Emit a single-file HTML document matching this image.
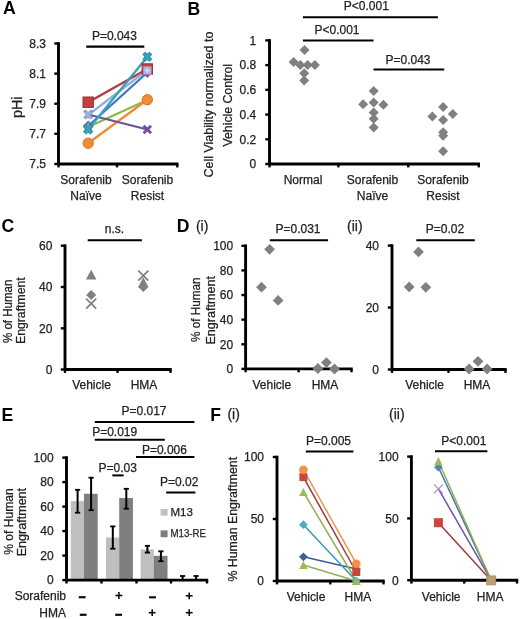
<!DOCTYPE html>
<html><head><meta charset="utf-8"><style>
html,body{margin:0;padding:0;background:#fff;}
svg{display:block;font-family:"Liberation Sans", sans-serif;}
</style></head><body>
<svg width="520" height="619" viewBox="0 0 520 619">
<defs><filter id="bl" filterUnits="userSpaceOnUse" x="0" y="0" width="520" height="619"><feGaussianBlur stdDeviation="0.4"/></filter></defs>
<rect width="520" height="619" fill="#fff"/>
<g filter="url(#bl)">
<text x="2.9" y="14.4" font-size="17.6" text-anchor="start" fill="#000" font-weight="bold">A</text>
<text x="187.6" y="14.7" font-size="17.6" text-anchor="start" fill="#000" font-weight="bold">B</text>
<text x="1.4" y="232.2" font-size="17.6" text-anchor="start" fill="#000" font-weight="bold">C</text>
<text x="176.8" y="232.1" font-size="17.6" text-anchor="start" fill="#000" font-weight="bold">D</text>
<text x="1.6" y="421.2" font-size="17.6" text-anchor="start" fill="#000" font-weight="bold">E</text>
<text x="210.2" y="421.2" font-size="17.6" text-anchor="start" fill="#000" font-weight="bold">F</text>
<text x="195.9" y="231.1" font-size="14" text-anchor="start" fill="#222" stroke="#222" stroke-width="0.25">(i)</text>
<text x="347" y="231.1" font-size="14" text-anchor="start" fill="#222" stroke="#222" stroke-width="0.25">(ii)</text>
<text x="227.4" y="419.2" font-size="14" text-anchor="start" fill="#222" stroke="#222" stroke-width="0.25">(i)</text>
<text x="389" y="419.2" font-size="14" text-anchor="start" fill="#222" stroke="#222" stroke-width="0.25">(ii)</text>
<line x1="58.5" y1="42.2" x2="58.5" y2="164" stroke="#000" stroke-width="2.9" stroke-linecap="butt"/>
<line x1="54.3" y1="43.5" x2="58.5" y2="43.5" stroke="#000" stroke-width="2.4" stroke-linecap="butt"/>
<text x="46" y="47.8" font-size="12" text-anchor="end" fill="#222" stroke="#222" stroke-width="0.25">8.3</text>
<line x1="54.3" y1="73.6" x2="58.5" y2="73.6" stroke="#000" stroke-width="2.4" stroke-linecap="butt"/>
<text x="46" y="77.89999999999999" font-size="12" text-anchor="end" fill="#222" stroke="#222" stroke-width="0.25">8.1</text>
<line x1="54.3" y1="103.7" x2="58.5" y2="103.7" stroke="#000" stroke-width="2.4" stroke-linecap="butt"/>
<text x="46" y="108.0" font-size="12" text-anchor="end" fill="#222" stroke="#222" stroke-width="0.25">7.9</text>
<line x1="54.3" y1="133.8" x2="58.5" y2="133.8" stroke="#000" stroke-width="2.4" stroke-linecap="butt"/>
<text x="46" y="138.10000000000002" font-size="12" text-anchor="end" fill="#222" stroke="#222" stroke-width="0.25">7.7</text>
<line x1="54.3" y1="164" x2="58.5" y2="164" stroke="#000" stroke-width="2.4" stroke-linecap="butt"/>
<text x="46" y="168.3" font-size="12" text-anchor="end" fill="#222" stroke="#222" stroke-width="0.25">7.5</text>
<line x1="58.5" y1="164" x2="178.5" y2="164" stroke="#000" stroke-width="2.9" stroke-linecap="butt"/>
<line x1="58.5" y1="164" x2="58.5" y2="167.4" stroke="#000" stroke-width="2.4" stroke-linecap="butt"/>
<line x1="117" y1="164" x2="117" y2="167.4" stroke="#000" stroke-width="2.4" stroke-linecap="butt"/>
<line x1="177.3" y1="164" x2="177.3" y2="167.4" stroke="#000" stroke-width="2.4" stroke-linecap="butt"/>
<text x="86" y="183.8" font-size="12" text-anchor="middle" fill="#222" stroke="#222" stroke-width="0.25">Sorafenib</text>
<text x="86" y="200" font-size="12" text-anchor="middle" fill="#222" stroke="#222" stroke-width="0.25">Na&#239;ve</text>
<text x="147.5" y="183.8" font-size="12" text-anchor="middle" fill="#222" stroke="#222" stroke-width="0.25">Sorafenib</text>
<text x="147.5" y="200" font-size="12" text-anchor="middle" fill="#222" stroke="#222" stroke-width="0.25">Resist</text>
<text x="22.2" y="107.3" font-size="14.4" text-anchor="middle" fill="#222" transform="rotate(-90 22.2 107.3)" stroke="#222" stroke-width="0.25">pHi</text>
<text x="114.4" y="40.0" font-size="12" text-anchor="middle" fill="#222" stroke="#222" stroke-width="0.25">P=0.043</text>
<line x1="86.2" y1="46.6" x2="144.3" y2="46.6" stroke="#000" stroke-width="2.2" stroke-linecap="butt"/>
<line x1="88.2" y1="126" x2="147.3" y2="72.5" stroke="#3D78BE" stroke-width="2.3" stroke-linecap="butt"/>
<line x1="88.2" y1="127" x2="147.3" y2="100" stroke="#8DB84C" stroke-width="2.3" stroke-linecap="butt"/>
<line x1="88.2" y1="143.2" x2="147.3" y2="99.7" stroke="#EF8A36" stroke-width="2.3" stroke-linecap="butt"/>
<line x1="88.2" y1="114.5" x2="147.3" y2="129.5" stroke="#6E50A0" stroke-width="2.3" stroke-linecap="butt"/>
<line x1="88.2" y1="102.2" x2="147.3" y2="69" stroke="#B23A3C" stroke-width="2.3" stroke-linecap="butt"/>
<line x1="88.2" y1="115" x2="147.3" y2="70" stroke="#98AEDC" stroke-width="2.3" stroke-linecap="butt"/>
<line x1="88.2" y1="129.5" x2="147.3" y2="56.8" stroke="#35A2BE" stroke-width="2.3" stroke-linecap="butt"/>
<polygon points="88.20,120.50 93.70,126.00 88.20,131.50 82.70,126.00" fill="#3D78BE"/>
<polygon points="147.30,67.00 152.80,72.50 147.30,78.00 141.80,72.50" fill="#3D78BE"/>
<polygon points="88.20,122.00 93.20,132.00 83.20,132.00" fill="#8DB84C"/>
<circle cx="88.2" cy="143.2" r="5.2" fill="#F08C38" stroke="#D8742C" stroke-width="1"/>
<circle cx="147.3" cy="99.7" r="5.2" fill="#F08C38" stroke="#D8742C" stroke-width="1"/>
<line x1="84.45" y1="110.75" x2="91.95" y2="118.25" stroke="#6E50A0" stroke-width="2.8" stroke-linecap="butt"/>
<line x1="84.45" y1="118.25" x2="91.95" y2="110.75" stroke="#6E50A0" stroke-width="2.8" stroke-linecap="butt"/>
<line x1="143.55" y1="125.75" x2="151.05" y2="133.25" stroke="#6E50A0" stroke-width="2.8" stroke-linecap="butt"/>
<line x1="143.55" y1="133.25" x2="151.05" y2="125.75" stroke="#6E50A0" stroke-width="2.8" stroke-linecap="butt"/>
<rect x="83.0" y="97.0" width="10.4" height="10.4" fill="#C4403F" stroke="#9E3033" stroke-width="1"/>
<rect x="142.10000000000002" y="63.8" width="10.4" height="10.4" fill="#C4403F" stroke="#9E3033" stroke-width="1"/>
<line x1="84.7" y1="111.5" x2="91.7" y2="118.5" stroke="#98AEDC" stroke-width="3" stroke-linecap="butt"/>
<line x1="84.7" y1="118.5" x2="91.7" y2="111.5" stroke="#98AEDC" stroke-width="3" stroke-linecap="butt"/>
<line x1="88.2" y1="111.5" x2="88.2" y2="118.5" stroke="#98AEDC" stroke-width="3" stroke-linecap="butt"/>
<rect x="143.20000000000002" y="66.4" width="8.2" height="8.2" fill="#A7B4DE"/>
<line x1="144.8" y1="70.5" x2="149.8" y2="70.5" stroke="#DCE2F4" stroke-width="1.2" stroke-linecap="butt"/>
<line x1="147.3" y1="68" x2="147.3" y2="73" stroke="#DCE2F4" stroke-width="1.2" stroke-linecap="butt"/>
<line x1="84.60000000000001" y1="125.9" x2="91.8" y2="133.1" stroke="#1F7F98" stroke-width="3.8" stroke-linecap="butt"/>
<line x1="84.60000000000001" y1="133.1" x2="91.8" y2="125.9" stroke="#1F7F98" stroke-width="3.8" stroke-linecap="butt"/>
<line x1="88.2" y1="125.9" x2="88.2" y2="133.1" stroke="#1F7F98" stroke-width="3.8" stroke-linecap="butt"/>
<line x1="84.7" y1="126.0" x2="91.7" y2="133.0" stroke="#35A2BE" stroke-width="2.4" stroke-linecap="butt"/>
<line x1="84.7" y1="133.0" x2="91.7" y2="126.0" stroke="#35A2BE" stroke-width="2.4" stroke-linecap="butt"/>
<line x1="88.2" y1="126.0" x2="88.2" y2="133.0" stroke="#35A2BE" stroke-width="2.4" stroke-linecap="butt"/>
<line x1="143.70000000000002" y1="53.199999999999996" x2="150.9" y2="60.4" stroke="#1F7F98" stroke-width="3.8" stroke-linecap="butt"/>
<line x1="143.70000000000002" y1="60.4" x2="150.9" y2="53.199999999999996" stroke="#1F7F98" stroke-width="3.8" stroke-linecap="butt"/>
<line x1="147.3" y1="53.199999999999996" x2="147.3" y2="60.4" stroke="#1F7F98" stroke-width="3.8" stroke-linecap="butt"/>
<line x1="143.8" y1="53.3" x2="150.8" y2="60.3" stroke="#35A2BE" stroke-width="2.4" stroke-linecap="butt"/>
<line x1="143.8" y1="60.3" x2="150.8" y2="53.3" stroke="#35A2BE" stroke-width="2.4" stroke-linecap="butt"/>
<line x1="147.3" y1="53.3" x2="147.3" y2="60.3" stroke="#35A2BE" stroke-width="2.4" stroke-linecap="butt"/>
<line x1="269.5" y1="39.1" x2="269.5" y2="164" stroke="#000" stroke-width="2.9" stroke-linecap="butt"/>
<line x1="265.3" y1="40.400000000000006" x2="269.5" y2="40.400000000000006" stroke="#000" stroke-width="2.4" stroke-linecap="butt"/>
<text x="256.3" y="44.7" font-size="12" text-anchor="end" fill="#222" stroke="#222" stroke-width="0.25">1</text>
<line x1="265.3" y1="65.12" x2="269.5" y2="65.12" stroke="#000" stroke-width="2.4" stroke-linecap="butt"/>
<text x="256.3" y="69.42" font-size="12" text-anchor="end" fill="#222" stroke="#222" stroke-width="0.25">0.8</text>
<line x1="265.3" y1="89.84" x2="269.5" y2="89.84" stroke="#000" stroke-width="2.4" stroke-linecap="butt"/>
<text x="256.3" y="94.14" font-size="12" text-anchor="end" fill="#222" stroke="#222" stroke-width="0.25">0.6</text>
<line x1="265.3" y1="114.56" x2="269.5" y2="114.56" stroke="#000" stroke-width="2.4" stroke-linecap="butt"/>
<text x="256.3" y="118.86" font-size="12" text-anchor="end" fill="#222" stroke="#222" stroke-width="0.25">0.4</text>
<line x1="265.3" y1="139.28" x2="269.5" y2="139.28" stroke="#000" stroke-width="2.4" stroke-linecap="butt"/>
<text x="256.3" y="143.58" font-size="12" text-anchor="end" fill="#222" stroke="#222" stroke-width="0.25">0.2</text>
<line x1="265.3" y1="164.0" x2="269.5" y2="164.0" stroke="#000" stroke-width="2.4" stroke-linecap="butt"/>
<text x="256.3" y="168.3" font-size="12" text-anchor="end" fill="#222" stroke="#222" stroke-width="0.25">0</text>
<line x1="269.5" y1="164" x2="480.0" y2="164" stroke="#000" stroke-width="2.9" stroke-linecap="butt"/>
<line x1="269.5" y1="164" x2="269.5" y2="167.4" stroke="#000" stroke-width="2.4" stroke-linecap="butt"/>
<line x1="338.4" y1="164" x2="338.4" y2="167.4" stroke="#000" stroke-width="2.4" stroke-linecap="butt"/>
<line x1="408.3" y1="164" x2="408.3" y2="167.4" stroke="#000" stroke-width="2.4" stroke-linecap="butt"/>
<line x1="478.8" y1="164" x2="478.8" y2="167.4" stroke="#000" stroke-width="2.4" stroke-linecap="butt"/>
<text x="213.4" y="104.5" font-size="12" text-anchor="middle" fill="#222" textLength="145.8" lengthAdjust="spacingAndGlyphs" transform="rotate(-90 213.4 104.5)" stroke="#222" stroke-width="0.25">Cell Viability normalized to</text>
<text x="231.9" y="105.2" font-size="12" text-anchor="middle" fill="#222" textLength="82.6" lengthAdjust="spacingAndGlyphs" transform="rotate(-90 231.9 105.2)" stroke="#222" stroke-width="0.25">Vehicle Control</text>
<text x="303" y="183.7" font-size="12" text-anchor="middle" fill="#222" stroke="#222" stroke-width="0.25">Normal</text>
<text x="372.5" y="183.7" font-size="12" text-anchor="middle" fill="#222" stroke="#222" stroke-width="0.25">Sorafenib</text>
<text x="372.5" y="199.8" font-size="12" text-anchor="middle" fill="#222" stroke="#222" stroke-width="0.25">Na&#239;ve</text>
<text x="443" y="183.7" font-size="12" text-anchor="middle" fill="#222" stroke="#222" stroke-width="0.25">Sorafenib</text>
<text x="443" y="199.8" font-size="12" text-anchor="middle" fill="#222" stroke="#222" stroke-width="0.25">Resist</text>
<text x="366.3" y="10.4" font-size="12" text-anchor="middle" fill="#222" stroke="#222" stroke-width="0.25">P&lt;0.001</text>
<line x1="302.9" y1="17.3" x2="437.9" y2="17.3" stroke="#000" stroke-width="2" stroke-linecap="butt"/>
<text x="337" y="34.0" font-size="12" text-anchor="middle" fill="#222" stroke="#222" stroke-width="0.25">P&lt;0.001</text>
<line x1="302.9" y1="40.6" x2="373.5" y2="40.6" stroke="#000" stroke-width="2" stroke-linecap="butt"/>
<text x="408" y="64.3" font-size="12" text-anchor="middle" fill="#222" stroke="#222" stroke-width="0.25">P=0.043</text>
<line x1="373.5" y1="69.5" x2="444.2" y2="69.5" stroke="#000" stroke-width="2" stroke-linecap="butt"/>
<polygon points="304.50,45.00 309.50,50.00 304.50,55.00 299.50,50.00" fill="#808080"/>
<polygon points="293.60,57.10 298.60,62.10 293.60,67.10 288.60,62.10" fill="#808080"/>
<polygon points="300.30,60.00 305.30,65.00 300.30,70.00 295.30,65.00" fill="#808080"/>
<polygon points="307.60,60.00 312.60,65.00 307.60,70.00 302.60,65.00" fill="#808080"/>
<polygon points="314.90,60.00 319.90,65.00 314.90,70.00 309.90,65.00" fill="#808080"/>
<polygon points="304.20,68.30 309.20,73.30 304.20,78.30 299.20,73.30" fill="#808080"/>
<polygon points="304.20,75.50 309.20,80.50 304.20,85.50 299.20,80.50" fill="#808080"/>
<polygon points="373.70,85.90 378.70,90.90 373.70,95.90 368.70,90.90" fill="#808080"/>
<polygon points="363.10,99.20 368.10,104.20 363.10,109.20 358.10,104.20" fill="#808080"/>
<polygon points="373.70,97.50 378.70,102.50 373.70,107.50 368.70,102.50" fill="#808080"/>
<polygon points="383.40,99.70 388.40,104.70 383.40,109.70 378.40,104.70" fill="#808080"/>
<polygon points="373.70,107.50 378.70,112.50 373.70,117.50 368.70,112.50" fill="#808080"/>
<polygon points="373.70,113.80 378.70,118.80 373.70,123.80 368.70,118.80" fill="#808080"/>
<polygon points="373.70,122.50 378.70,127.50 373.70,132.50 368.70,127.50" fill="#808080"/>
<polygon points="443.10,102.10 448.10,107.10 443.10,112.10 438.10,107.10" fill="#808080"/>
<polygon points="432.40,111.50 437.40,116.50 432.40,121.50 427.40,116.50" fill="#808080"/>
<polygon points="452.80,108.90 457.80,113.90 452.80,118.90 447.80,113.90" fill="#808080"/>
<polygon points="443.10,115.00 448.10,120.00 443.10,125.00 438.10,120.00" fill="#808080"/>
<polygon points="443.10,127.30 448.10,132.30 443.10,137.30 438.10,132.30" fill="#808080"/>
<polygon points="443.10,130.70 448.10,135.70 443.10,140.70 438.10,135.70" fill="#808080"/>
<polygon points="443.10,146.20 448.10,151.20 443.10,156.20 438.10,151.20" fill="#808080"/>
<line x1="65" y1="244.39999999999998" x2="65" y2="369.5" stroke="#000" stroke-width="2.9" stroke-linecap="butt"/>
<line x1="60.8" y1="245.7" x2="65" y2="245.7" stroke="#000" stroke-width="2.4" stroke-linecap="butt"/>
<text x="52.4" y="250.0" font-size="12" text-anchor="end" fill="#222" stroke="#222" stroke-width="0.25">60</text>
<line x1="60.8" y1="287" x2="65" y2="287" stroke="#000" stroke-width="2.4" stroke-linecap="butt"/>
<text x="52.4" y="291.3" font-size="12" text-anchor="end" fill="#222" stroke="#222" stroke-width="0.25">40</text>
<line x1="60.8" y1="328.3" x2="65" y2="328.3" stroke="#000" stroke-width="2.4" stroke-linecap="butt"/>
<text x="52.4" y="332.6" font-size="12" text-anchor="end" fill="#222" stroke="#222" stroke-width="0.25">20</text>
<line x1="60.8" y1="369.5" x2="65" y2="369.5" stroke="#000" stroke-width="2.4" stroke-linecap="butt"/>
<text x="52.4" y="373.8" font-size="12" text-anchor="end" fill="#222" stroke="#222" stroke-width="0.25">0</text>
<line x1="65" y1="369.5" x2="171.7" y2="369.5" stroke="#000" stroke-width="2.9" stroke-linecap="butt"/>
<line x1="65" y1="369.5" x2="65" y2="372.9" stroke="#000" stroke-width="2.4" stroke-linecap="butt"/>
<line x1="117.5" y1="369.5" x2="117.5" y2="372.9" stroke="#000" stroke-width="2.4" stroke-linecap="butt"/>
<line x1="170.5" y1="369.5" x2="170.5" y2="372.9" stroke="#000" stroke-width="2.4" stroke-linecap="butt"/>
<text x="11.8" y="311.3" font-size="12" text-anchor="middle" fill="#222" textLength="63.4" lengthAdjust="spacingAndGlyphs" transform="rotate(-90 11.8 311.3)" stroke="#222" stroke-width="0.25">% of Human</text>
<text x="25.1" y="310.7" font-size="12" text-anchor="middle" fill="#222" textLength="66.7" lengthAdjust="spacingAndGlyphs" transform="rotate(-90 25.1 310.7)" stroke="#222" stroke-width="0.25">Engraftment</text>
<text x="91.5" y="389.4" font-size="12" text-anchor="middle" fill="#222" stroke="#222" stroke-width="0.25">Vehicle</text>
<text x="144" y="389.4" font-size="12" text-anchor="middle" fill="#222" stroke="#222" stroke-width="0.25">HMA</text>
<text x="114.5" y="233.0" font-size="12" text-anchor="middle" fill="#222" stroke="#222" stroke-width="0.25">n.s.</text>
<line x1="87.7" y1="240.3" x2="141.9" y2="240.3" stroke="#000" stroke-width="2" stroke-linecap="butt"/>
<polygon points="91.20,269.75 96.45,279.45 85.95,279.45" fill="#808080"/>
<line x1="86.2" y1="298.6" x2="96.2" y2="308.6" stroke="#808080" stroke-width="1.8" stroke-linecap="butt"/>
<line x1="86.2" y1="308.6" x2="96.2" y2="298.6" stroke="#808080" stroke-width="1.8" stroke-linecap="butt"/>
<polygon points="91.20,290.10 96.20,295.10 91.20,300.10 86.20,295.10" fill="#808080"/>
<line x1="138.3" y1="270.6" x2="148.3" y2="280.6" stroke="#808080" stroke-width="1.8" stroke-linecap="butt"/>
<line x1="138.3" y1="280.6" x2="148.3" y2="270.6" stroke="#808080" stroke-width="1.8" stroke-linecap="butt"/>
<polygon points="143.30,277.30 148.55,287.30 138.05,287.30" fill="#808080"/>
<polygon points="143.30,282.00 148.30,287.00 143.30,292.00 138.30,287.00" fill="#808080"/>
<line x1="245.6" y1="244.5" x2="245.6" y2="368.9" stroke="#000" stroke-width="2.9" stroke-linecap="butt"/>
<line x1="241.4" y1="245.79999999999995" x2="245.6" y2="245.79999999999995" stroke="#000" stroke-width="2.4" stroke-linecap="butt"/>
<text x="233.2" y="250.09999999999997" font-size="12" text-anchor="end" fill="#222" stroke="#222" stroke-width="0.25">100</text>
<line x1="241.4" y1="270.41999999999996" x2="245.6" y2="270.41999999999996" stroke="#000" stroke-width="2.4" stroke-linecap="butt"/>
<text x="233.2" y="274.71999999999997" font-size="12" text-anchor="end" fill="#222" stroke="#222" stroke-width="0.25">80</text>
<line x1="241.4" y1="295.03999999999996" x2="245.6" y2="295.03999999999996" stroke="#000" stroke-width="2.4" stroke-linecap="butt"/>
<text x="233.2" y="299.34" font-size="12" text-anchor="end" fill="#222" stroke="#222" stroke-width="0.25">60</text>
<line x1="241.4" y1="319.65999999999997" x2="245.6" y2="319.65999999999997" stroke="#000" stroke-width="2.4" stroke-linecap="butt"/>
<text x="233.2" y="323.96" font-size="12" text-anchor="end" fill="#222" stroke="#222" stroke-width="0.25">40</text>
<line x1="241.4" y1="344.28" x2="245.6" y2="344.28" stroke="#000" stroke-width="2.4" stroke-linecap="butt"/>
<text x="233.2" y="348.58" font-size="12" text-anchor="end" fill="#222" stroke="#222" stroke-width="0.25">20</text>
<line x1="241.4" y1="368.9" x2="245.6" y2="368.9" stroke="#000" stroke-width="2.4" stroke-linecap="butt"/>
<text x="233.2" y="373.2" font-size="12" text-anchor="end" fill="#222" stroke="#222" stroke-width="0.25">0</text>
<line x1="245.6" y1="368.9" x2="352.7" y2="368.9" stroke="#000" stroke-width="2.9" stroke-linecap="butt"/>
<line x1="245.6" y1="368.9" x2="245.6" y2="372.29999999999995" stroke="#000" stroke-width="2.4" stroke-linecap="butt"/>
<line x1="298.6" y1="368.9" x2="298.6" y2="372.29999999999995" stroke="#000" stroke-width="2.4" stroke-linecap="butt"/>
<line x1="351.5" y1="368.9" x2="351.5" y2="372.29999999999995" stroke="#000" stroke-width="2.4" stroke-linecap="butt"/>
<text x="271.8" y="389.4" font-size="12" text-anchor="middle" fill="#222" stroke="#222" stroke-width="0.25">Vehicle</text>
<text x="325" y="389.4" font-size="12" text-anchor="middle" fill="#222" stroke="#222" stroke-width="0.25">HMA</text>
<text x="298" y="233.4" font-size="12" text-anchor="middle" fill="#222" stroke="#222" stroke-width="0.25">P=0.031</text>
<line x1="269.8" y1="240.3" x2="328.1" y2="240.3" stroke="#000" stroke-width="2" stroke-linecap="butt"/>
<polygon points="269.60,243.90 275.00,249.30 269.60,254.70 264.20,249.30" fill="#808080"/>
<polygon points="261.50,281.80 266.90,287.20 261.50,292.60 256.10,287.20" fill="#808080"/>
<polygon points="278.10,295.00 283.50,300.40 278.10,305.80 272.70,300.40" fill="#808080"/>
<polygon points="317.90,363.10 323.30,368.50 317.90,373.90 312.50,368.50" fill="#808080"/>
<polygon points="326.40,357.20 331.80,362.60 326.40,368.00 321.00,362.60" fill="#808080"/>
<polygon points="334.50,363.60 339.90,369.00 334.50,374.40 329.10,369.00" fill="#808080"/>
<text x="199.7" y="309.7" font-size="12" text-anchor="middle" fill="#222" textLength="64.6" lengthAdjust="spacingAndGlyphs" transform="rotate(-90 199.7 309.7)" stroke="#222" stroke-width="0.25">% of Human</text>
<text x="215.2" y="310.3" font-size="12" text-anchor="middle" fill="#222" textLength="68.4" lengthAdjust="spacingAndGlyphs" transform="rotate(-90 215.2 310.3)" stroke="#222" stroke-width="0.25">Engraftment</text>
<line x1="392" y1="244.29999999999998" x2="392" y2="369.5" stroke="#000" stroke-width="2.9" stroke-linecap="butt"/>
<line x1="387.8" y1="245.6" x2="392" y2="245.6" stroke="#000" stroke-width="2.4" stroke-linecap="butt"/>
<text x="379" y="249.9" font-size="12" text-anchor="end" fill="#222" stroke="#222" stroke-width="0.25">40</text>
<line x1="387.8" y1="307.55" x2="392" y2="307.55" stroke="#000" stroke-width="2.4" stroke-linecap="butt"/>
<text x="379" y="311.85" font-size="12" text-anchor="end" fill="#222" stroke="#222" stroke-width="0.25">20</text>
<line x1="387.8" y1="369.5" x2="392" y2="369.5" stroke="#000" stroke-width="2.4" stroke-linecap="butt"/>
<text x="379" y="373.8" font-size="12" text-anchor="end" fill="#222" stroke="#222" stroke-width="0.25">0</text>
<line x1="392" y1="369.5" x2="506.7" y2="369.5" stroke="#000" stroke-width="2.9" stroke-linecap="butt"/>
<line x1="392" y1="369.5" x2="392" y2="372.9" stroke="#000" stroke-width="2.4" stroke-linecap="butt"/>
<line x1="448.5" y1="369.5" x2="448.5" y2="372.9" stroke="#000" stroke-width="2.4" stroke-linecap="butt"/>
<line x1="505.5" y1="369.5" x2="505.5" y2="372.9" stroke="#000" stroke-width="2.4" stroke-linecap="butt"/>
<text x="424.6" y="389.4" font-size="12" text-anchor="middle" fill="#222" stroke="#222" stroke-width="0.25">Vehicle</text>
<text x="477" y="389.4" font-size="12" text-anchor="middle" fill="#222" stroke="#222" stroke-width="0.25">HMA</text>
<text x="444.9" y="233.2" font-size="12" text-anchor="middle" fill="#222" stroke="#222" stroke-width="0.25">P=0.02</text>
<line x1="416.3" y1="240.3" x2="474.8" y2="240.3" stroke="#000" stroke-width="2" stroke-linecap="butt"/>
<polygon points="418.50,246.50 423.90,251.90 418.50,257.30 413.10,251.90" fill="#808080"/>
<polygon points="409.20,281.50 414.60,286.90 409.20,292.30 403.80,286.90" fill="#808080"/>
<polygon points="425.80,281.90 431.20,287.30 425.80,292.70 420.40,287.30" fill="#808080"/>
<polygon points="469.10,363.60 474.50,369.00 469.10,374.40 463.70,369.00" fill="#808080"/>
<polygon points="478.00,355.90 483.40,361.30 478.00,366.70 472.60,361.30" fill="#808080"/>
<polygon points="487.10,363.60 492.50,369.00 487.10,374.40 481.70,369.00" fill="#808080"/>
<line x1="66.5" y1="456.3" x2="66.5" y2="580.1" stroke="#000" stroke-width="2.9" stroke-linecap="butt"/>
<line x1="62.3" y1="457.6" x2="66.5" y2="457.6" stroke="#000" stroke-width="2.4" stroke-linecap="butt"/>
<text x="53.6" y="461.90000000000003" font-size="12" text-anchor="end" fill="#222" stroke="#222" stroke-width="0.25">100</text>
<line x1="62.3" y1="482.1" x2="66.5" y2="482.1" stroke="#000" stroke-width="2.4" stroke-linecap="butt"/>
<text x="53.6" y="486.40000000000003" font-size="12" text-anchor="end" fill="#222" stroke="#222" stroke-width="0.25">80</text>
<line x1="62.3" y1="506.6" x2="66.5" y2="506.6" stroke="#000" stroke-width="2.4" stroke-linecap="butt"/>
<text x="53.6" y="510.90000000000003" font-size="12" text-anchor="end" fill="#222" stroke="#222" stroke-width="0.25">60</text>
<line x1="62.3" y1="531.1" x2="66.5" y2="531.1" stroke="#000" stroke-width="2.4" stroke-linecap="butt"/>
<text x="53.6" y="535.4" font-size="12" text-anchor="end" fill="#222" stroke="#222" stroke-width="0.25">40</text>
<line x1="62.3" y1="555.6" x2="66.5" y2="555.6" stroke="#000" stroke-width="2.4" stroke-linecap="butt"/>
<text x="53.6" y="559.9" font-size="12" text-anchor="end" fill="#222" stroke="#222" stroke-width="0.25">20</text>
<line x1="62.3" y1="580.1" x2="66.5" y2="580.1" stroke="#000" stroke-width="2.4" stroke-linecap="butt"/>
<text x="53.6" y="584.4" font-size="12" text-anchor="end" fill="#222" stroke="#222" stroke-width="0.25">0</text>
<rect x="70.8" y="501.08750000000003" width="13.2" height="79.01249999999999" fill="#bfbfbf"/>
<rect x="84" y="493.7375" width="13.7" height="86.36250000000001" fill="#7f7f7f"/>
<line x1="77.6" y1="489.8" x2="77.6" y2="512.7" stroke="#000" stroke-width="2" stroke-linecap="butt"/>
<line x1="75.0" y1="489.8" x2="80.19999999999999" y2="489.8" stroke="#000" stroke-width="1.8" stroke-linecap="butt"/>
<line x1="75.0" y1="512.7" x2="80.19999999999999" y2="512.7" stroke="#000" stroke-width="1.8" stroke-linecap="butt"/>
<line x1="91.1" y1="477.7" x2="91.1" y2="510.2" stroke="#000" stroke-width="2" stroke-linecap="butt"/>
<line x1="88.5" y1="477.7" x2="93.69999999999999" y2="477.7" stroke="#000" stroke-width="1.8" stroke-linecap="butt"/>
<line x1="88.5" y1="510.2" x2="93.69999999999999" y2="510.2" stroke="#000" stroke-width="1.8" stroke-linecap="butt"/>
<rect x="106.0" y="537.47" width="13.2" height="42.629999999999995" fill="#bfbfbf"/>
<rect x="119.2" y="498.02500000000003" width="13.7" height="82.07499999999999" fill="#7f7f7f"/>
<line x1="112.8" y1="526.4" x2="112.8" y2="548.7" stroke="#000" stroke-width="2" stroke-linecap="butt"/>
<line x1="110.2" y1="526.4" x2="115.39999999999999" y2="526.4" stroke="#000" stroke-width="1.8" stroke-linecap="butt"/>
<line x1="110.2" y1="548.7" x2="115.39999999999999" y2="548.7" stroke="#000" stroke-width="1.8" stroke-linecap="butt"/>
<line x1="126.3" y1="488.8" x2="126.3" y2="508.7" stroke="#000" stroke-width="2" stroke-linecap="butt"/>
<line x1="123.7" y1="488.8" x2="128.9" y2="488.8" stroke="#000" stroke-width="1.8" stroke-linecap="butt"/>
<line x1="123.7" y1="508.7" x2="128.9" y2="508.7" stroke="#000" stroke-width="1.8" stroke-linecap="butt"/>
<rect x="140.60000000000002" y="549.475" width="13.2" height="30.625" fill="#bfbfbf"/>
<rect x="153.8" y="555.845" width="13.7" height="24.254999999999995" fill="#7f7f7f"/>
<line x1="147.4" y1="545.8" x2="147.4" y2="552.6" stroke="#000" stroke-width="2" stroke-linecap="butt"/>
<line x1="144.8" y1="545.8" x2="150.0" y2="545.8" stroke="#000" stroke-width="1.8" stroke-linecap="butt"/>
<line x1="144.8" y1="552.6" x2="150.0" y2="552.6" stroke="#000" stroke-width="1.8" stroke-linecap="butt"/>
<line x1="160.9" y1="551.3" x2="160.9" y2="561.2" stroke="#000" stroke-width="2" stroke-linecap="butt"/>
<line x1="158.3" y1="551.3" x2="163.5" y2="551.3" stroke="#000" stroke-width="1.8" stroke-linecap="butt"/>
<line x1="158.3" y1="561.2" x2="163.5" y2="561.2" stroke="#000" stroke-width="1.8" stroke-linecap="butt"/>
<rect x="175.8" y="579.61" width="13.2" height="0.4900000000000091" fill="#bfbfbf"/>
<rect x="189" y="579.4875000000001" width="13.7" height="0.6124999999999545" fill="#7f7f7f"/>
<line x1="182.6" y1="576" x2="182.6" y2="580" stroke="#000" stroke-width="2" stroke-linecap="butt"/>
<line x1="180.0" y1="576" x2="185.2" y2="576" stroke="#000" stroke-width="1.8" stroke-linecap="butt"/>
<line x1="180.0" y1="580" x2="185.2" y2="580" stroke="#000" stroke-width="1.8" stroke-linecap="butt"/>
<line x1="196.1" y1="576" x2="196.1" y2="580" stroke="#000" stroke-width="2" stroke-linecap="butt"/>
<line x1="193.5" y1="576" x2="198.7" y2="576" stroke="#000" stroke-width="1.8" stroke-linecap="butt"/>
<line x1="193.5" y1="580" x2="198.7" y2="580" stroke="#000" stroke-width="1.8" stroke-linecap="butt"/>
<line x1="66.5" y1="580.1" x2="208.2" y2="580.1" stroke="#000" stroke-width="2.9" stroke-linecap="butt"/>
<line x1="66.5" y1="580.1" x2="66.5" y2="583.5" stroke="#000" stroke-width="2.4" stroke-linecap="butt"/>
<line x1="101.5" y1="580.1" x2="101.5" y2="583.5" stroke="#000" stroke-width="2.4" stroke-linecap="butt"/>
<line x1="136.5" y1="580.1" x2="136.5" y2="583.5" stroke="#000" stroke-width="2.4" stroke-linecap="butt"/>
<line x1="171" y1="580.1" x2="171" y2="583.5" stroke="#000" stroke-width="2.4" stroke-linecap="butt"/>
<line x1="207" y1="580.1" x2="207" y2="583.5" stroke="#000" stroke-width="2.4" stroke-linecap="butt"/>
<rect x="160.6" y="509" width="7" height="6.6" fill="#bfbfbf"/>
<text x="170.5" y="516" font-size="11.5" text-anchor="start" fill="#222" stroke="#222" stroke-width="0.25">M13</text>
<rect x="160.6" y="530.4" width="7" height="6.8" fill="#7f7f7f"/>
<text x="170.5" y="537.2" font-size="11.5" text-anchor="start" fill="#222" textLength="35.5" lengthAdjust="spacingAndGlyphs" stroke="#222" stroke-width="0.25">M13-RE</text>
<text x="12.9" y="521.5" font-size="12" text-anchor="middle" fill="#222" textLength="66.5" lengthAdjust="spacingAndGlyphs" transform="rotate(-90 12.9 521.5)" stroke="#222" stroke-width="0.25">% of Human</text>
<text x="26.2" y="522.1" font-size="12" text-anchor="middle" fill="#222" textLength="68.4" lengthAdjust="spacingAndGlyphs" transform="rotate(-90 26.2 522.1)" stroke="#222" stroke-width="0.25">Engraftment</text>
<text x="144" y="415.1" font-size="12" text-anchor="middle" fill="#222" stroke="#222" stroke-width="0.25">P=0.017</text>
<line x1="94.8" y1="422.1" x2="194.4" y2="422.1" stroke="#000" stroke-width="2" stroke-linecap="butt"/>
<text x="114.7" y="436.1" font-size="12" text-anchor="middle" fill="#222" stroke="#222" stroke-width="0.25">P=0.019</text>
<line x1="94.8" y1="439.8" x2="164.8" y2="439.8" stroke="#000" stroke-width="2" stroke-linecap="butt"/>
<text x="164.4" y="453.6" font-size="12" text-anchor="middle" fill="#222" stroke="#222" stroke-width="0.25">P=0.006</text>
<line x1="136" y1="457.1" x2="194.4" y2="457.1" stroke="#000" stroke-width="2" stroke-linecap="butt"/>
<text x="117.7" y="471.7" font-size="12" text-anchor="middle" fill="#222" stroke="#222" stroke-width="0.25">P=0.03</text>
<line x1="112.3" y1="475.4" x2="123.6" y2="475.4" stroke="#000" stroke-width="2" stroke-linecap="butt"/>
<text x="179.2" y="486.1" font-size="12" text-anchor="middle" fill="#222" stroke="#222" stroke-width="0.25">P=0.02</text>
<line x1="166.2" y1="492.5" x2="195.4" y2="492.5" stroke="#000" stroke-width="2" stroke-linecap="butt"/>
<text x="66" y="599.8" font-size="12" text-anchor="end" fill="#222" stroke="#222" stroke-width="0.25">Sorafenib</text>
<text x="66" y="617" font-size="12" text-anchor="end" fill="#222" stroke="#222" stroke-width="0.25">HMA</text>
<line x1="78.8" y1="597.2" x2="85.60000000000001" y2="597.2" stroke="#111" stroke-width="2.2" stroke-linecap="butt"/>
<line x1="115.5" y1="595.5" x2="122.30000000000001" y2="595.5" stroke="#111" stroke-width="1.6" stroke-linecap="butt"/>
<line x1="118.9" y1="592.1" x2="118.9" y2="598.9" stroke="#111" stroke-width="1.6" stroke-linecap="butt"/>
<line x1="149.1" y1="597.3" x2="155.9" y2="597.3" stroke="#111" stroke-width="2.2" stroke-linecap="butt"/>
<line x1="185.79999999999998" y1="595.8" x2="192.6" y2="595.8" stroke="#111" stroke-width="1.6" stroke-linecap="butt"/>
<line x1="189.2" y1="592.4" x2="189.2" y2="599.1999999999999" stroke="#111" stroke-width="1.6" stroke-linecap="butt"/>
<line x1="79.8" y1="614.8" x2="86.60000000000001" y2="614.8" stroke="#111" stroke-width="2.2" stroke-linecap="butt"/>
<line x1="115.19999999999999" y1="614.8" x2="122.0" y2="614.8" stroke="#111" stroke-width="2.2" stroke-linecap="butt"/>
<line x1="148.79999999999998" y1="612.7" x2="155.6" y2="612.7" stroke="#111" stroke-width="1.6" stroke-linecap="butt"/>
<line x1="152.2" y1="609.3000000000001" x2="152.2" y2="616.1" stroke="#111" stroke-width="1.6" stroke-linecap="butt"/>
<line x1="185.79999999999998" y1="612.7" x2="192.6" y2="612.7" stroke="#111" stroke-width="1.6" stroke-linecap="butt"/>
<line x1="189.2" y1="609.3000000000001" x2="189.2" y2="616.1" stroke="#111" stroke-width="1.6" stroke-linecap="butt"/>
<line x1="277" y1="455.7" x2="277" y2="581" stroke="#000" stroke-width="2.9" stroke-linecap="butt"/>
<line x1="272.8" y1="457.0" x2="277" y2="457.0" stroke="#000" stroke-width="2.4" stroke-linecap="butt"/>
<text x="264" y="461.3" font-size="12" text-anchor="end" fill="#222" stroke="#222" stroke-width="0.25">100</text>
<line x1="272.8" y1="519.0" x2="277" y2="519.0" stroke="#000" stroke-width="2.4" stroke-linecap="butt"/>
<text x="264" y="523.3" font-size="12" text-anchor="end" fill="#222" stroke="#222" stroke-width="0.25">50</text>
<line x1="272.8" y1="581.0" x2="277" y2="581.0" stroke="#000" stroke-width="2.4" stroke-linecap="butt"/>
<text x="264" y="585.3" font-size="12" text-anchor="end" fill="#222" stroke="#222" stroke-width="0.25">0</text>
<line x1="277" y1="581" x2="384.7" y2="581" stroke="#000" stroke-width="2.9" stroke-linecap="butt"/>
<line x1="277" y1="581" x2="277" y2="584.4" stroke="#000" stroke-width="2.4" stroke-linecap="butt"/>
<line x1="330.3" y1="581" x2="330.3" y2="584.4" stroke="#000" stroke-width="2.4" stroke-linecap="butt"/>
<line x1="383.5" y1="581" x2="383.5" y2="584.4" stroke="#000" stroke-width="2.4" stroke-linecap="butt"/>
<text x="237.2" y="519.2" font-size="12" text-anchor="middle" fill="#222" textLength="124.6" lengthAdjust="spacingAndGlyphs" transform="rotate(-90 237.2 519.2)" stroke="#222" stroke-width="0.25">% Human Engraftment</text>
<text x="306" y="600.6" font-size="12" text-anchor="middle" fill="#222" stroke="#222" stroke-width="0.25">Vehicle</text>
<text x="357.9" y="600.6" font-size="12" text-anchor="middle" fill="#222" stroke="#222" stroke-width="0.25">HMA</text>
<text x="328.5" y="444.5" font-size="12" text-anchor="middle" fill="#222" stroke="#222" stroke-width="0.25">P=0.005</text>
<line x1="305.8" y1="451.6" x2="353.4" y2="451.6" stroke="#000" stroke-width="2" stroke-linecap="butt"/>
<line x1="303.4" y1="565" x2="356.3" y2="581" stroke="#90B055" stroke-width="1.5" stroke-linecap="butt"/>
<line x1="303.4" y1="556.8" x2="356.3" y2="569" stroke="#3C5A96" stroke-width="1.5" stroke-linecap="butt"/>
<line x1="303.4" y1="524.7" x2="356.3" y2="581" stroke="#3B98AE" stroke-width="1.5" stroke-linecap="butt"/>
<line x1="303.4" y1="492" x2="356.3" y2="581" stroke="#90B055" stroke-width="1.5" stroke-linecap="butt"/>
<line x1="303.4" y1="477.1" x2="356.3" y2="572" stroke="#9A3C3A" stroke-width="1.5" stroke-linecap="butt"/>
<line x1="303.4" y1="469.7" x2="356.3" y2="563.7" stroke="#E8964E" stroke-width="1.5" stroke-linecap="butt"/>
<polygon points="303.40,561.00 307.65,569.00 299.15,569.00" fill="#9BBB59"/>
<polygon points="356.30,577.00 360.55,585.00 352.05,585.00" fill="#9BBB59"/>
<polygon points="303.40,552.40 307.80,556.80 303.40,561.20 299.00,556.80" fill="#3F5F9A"/>
<polygon points="356.30,564.60 360.70,569.00 356.30,573.40 351.90,569.00" fill="#3F5F9A"/>
<polygon points="303.40,520.30 307.80,524.70 303.40,529.10 299.00,524.70" fill="#4BACC6"/>
<polygon points="356.30,576.60 360.70,581.00 356.30,585.40 351.90,581.00" fill="#4BACC6"/>
<polygon points="303.40,488.00 307.65,496.00 299.15,496.00" fill="#9BBB59"/>
<polygon points="356.30,577.00 360.55,585.00 352.05,585.00" fill="#9BBB59"/>
<rect x="299.4" y="473.1" width="8" height="8" fill="#C4463F"/>
<rect x="352.3" y="568.0" width="8" height="8" fill="#C4463F"/>
<circle cx="303.4" cy="469.7" r="4.3" fill="#F5913F"/>
<circle cx="356.3" cy="563.7" r="4.3" fill="#F5913F"/>
<line x1="411.4" y1="455.3" x2="411.4" y2="580.2" stroke="#000" stroke-width="2.9" stroke-linecap="butt"/>
<line x1="407.2" y1="456.6" x2="411.4" y2="456.6" stroke="#000" stroke-width="2.4" stroke-linecap="butt"/>
<text x="398.6" y="460.90000000000003" font-size="12" text-anchor="end" fill="#222" stroke="#222" stroke-width="0.25">100</text>
<line x1="407.2" y1="518.4" x2="411.4" y2="518.4" stroke="#000" stroke-width="2.4" stroke-linecap="butt"/>
<text x="398.6" y="522.6999999999999" font-size="12" text-anchor="end" fill="#222" stroke="#222" stroke-width="0.25">50</text>
<line x1="407.2" y1="580.2" x2="411.4" y2="580.2" stroke="#000" stroke-width="2.4" stroke-linecap="butt"/>
<text x="398.6" y="584.5" font-size="12" text-anchor="end" fill="#222" stroke="#222" stroke-width="0.25">0</text>
<line x1="411.4" y1="580.2" x2="518.2" y2="580.2" stroke="#000" stroke-width="2.9" stroke-linecap="butt"/>
<line x1="411.4" y1="580.2" x2="411.4" y2="583.6" stroke="#000" stroke-width="2.4" stroke-linecap="butt"/>
<line x1="464.2" y1="580.2" x2="464.2" y2="583.6" stroke="#000" stroke-width="2.4" stroke-linecap="butt"/>
<line x1="517" y1="580.2" x2="517" y2="583.6" stroke="#000" stroke-width="2.4" stroke-linecap="butt"/>
<text x="441.2" y="600.5" font-size="12" text-anchor="middle" fill="#222" stroke="#222" stroke-width="0.25">Vehicle</text>
<text x="490.2" y="600.5" font-size="12" text-anchor="middle" fill="#222" stroke="#222" stroke-width="0.25">HMA</text>
<text x="463.8" y="444.5" font-size="12" text-anchor="middle" fill="#222" stroke="#222" stroke-width="0.25">P&lt;0.001</text>
<line x1="435" y1="451.3" x2="487.4" y2="451.3" stroke="#000" stroke-width="2" stroke-linecap="butt"/>
<line x1="438.4" y1="522.7" x2="491.2" y2="580.4" stroke="#A03A38" stroke-width="1.5" stroke-linecap="butt"/>
<line x1="438.4" y1="488.9" x2="491.2" y2="580.4" stroke="#6A55A0" stroke-width="1.5" stroke-linecap="butt"/>
<line x1="438.4" y1="467.2" x2="491.2" y2="580.4" stroke="#4A70B8" stroke-width="1.5" stroke-linecap="butt"/>
<line x1="438.4" y1="461.2" x2="491.2" y2="580.4" stroke="#8FB050" stroke-width="1.5" stroke-linecap="butt"/>
<rect x="433.9" y="518.2" width="9" height="9" fill="#C8463F"/>
<line x1="433.9" y1="484.4" x2="442.9" y2="493.4" stroke="#9D8FC8" stroke-width="1.1" stroke-linecap="butt"/>
<line x1="433.9" y1="493.4" x2="442.9" y2="484.4" stroke="#9D8FC8" stroke-width="1.1" stroke-linecap="butt"/>
<polygon points="438.40,462.90 442.70,467.20 438.40,471.50 434.10,467.20" fill="#4F7FC0"/>
<polygon points="438.40,456.95 442.65,465.45 434.15,465.45" fill="#96BA55"/>
<rect x="486.7" y="575.9" width="9" height="9" fill="#B5A272"/>
<rect x="486.7" y="575.9" width="9" height="9" fill="none" stroke="#C87A6E" stroke-width="0.8"/>
</g>
</svg>
</body></html>
